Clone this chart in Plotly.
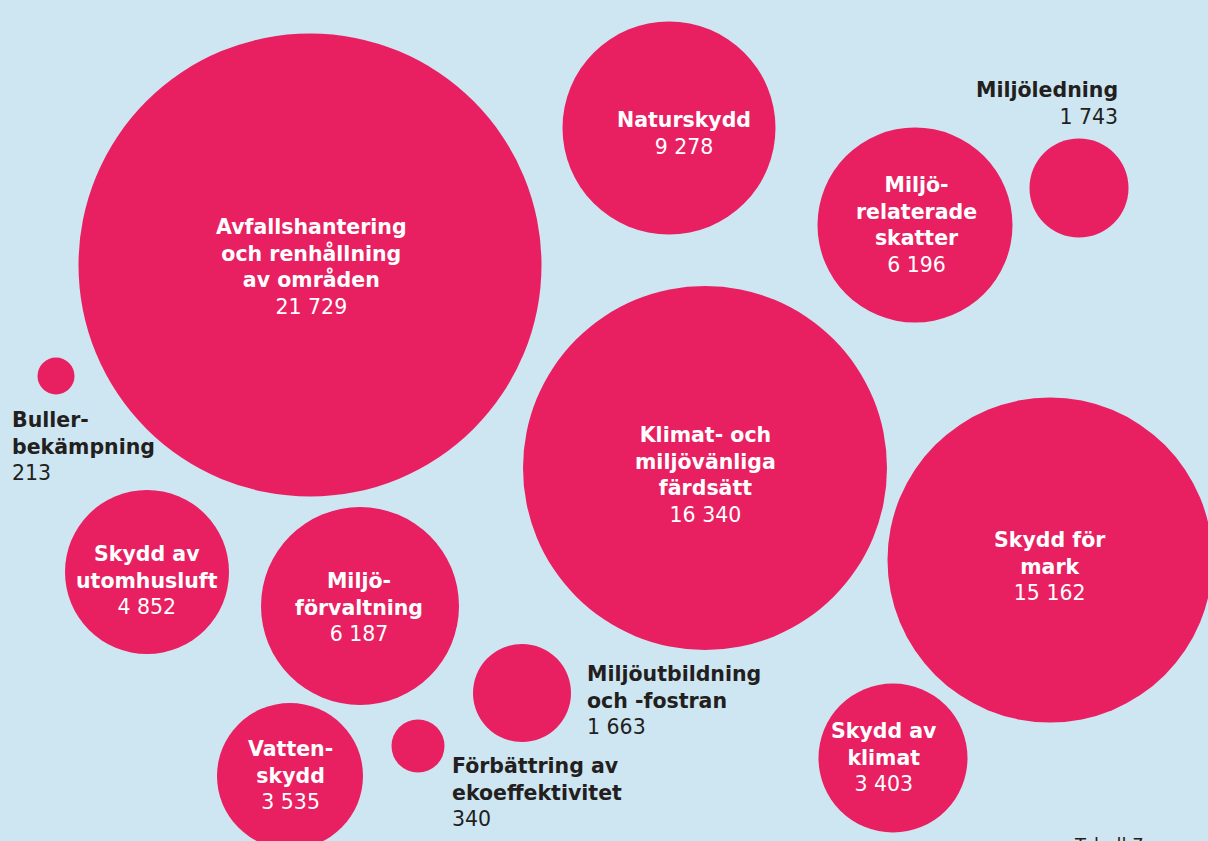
import plotly.graph_objects as go

# ---- data ----
categories = [
    "Avfallshantering<br>och renhållning<br>av områden",
    "Naturskydd",
    "Miljö-<br>relaterade<br>skatter",
    "Miljöledning",
    "Buller-<br>bekämpning",
    "Klimat- och<br>miljövänliga<br>färdsätt",
    "Skydd för<br>mark",
    "Skydd av<br>utomhusluft",
    "Miljö-<br>förvaltning",
    "Miljöutbildning<br>och -fostran",
    "Förbättring av<br>ekoeffektivitet",
    "Vatten-<br>skydd",
    "Skydd av<br>klimat",
]
values = [21729, 9278, 6196, 1743, 213, 16340, 15162, 4852, 6187, 1663, 340, 3535, 3403]

# ---- layout of the packed bubbles (pixel space) ----
bubble_x = [310, 669, 915, 1079, 56, 705, 1050, 147, 360, 522, 418, 290, 893]
bubble_y = [265, 128, 225, 188, 376, 468, 560, 572, 606, 693, 746, 776, 758]
bubble_d = [463, 213, 195, 99, 37, 364, 325, 164, 198, 98, 53, 146, 149]

# label placement: (x, y, align, inside)
label_pos = [
    (311, 267, "center", True),
    (684, 133, "center", True),
    (916, 225, "center", True),
    (1120, 103, "right", False),
    (10, 446, "left", False),
    (705, 475, "center", True),
    (1050, 566, "center", True),
    (147, 580, "center", True),
    (359, 607, "center", True),
    (585, 700, "left", False),
    (450, 792, "left", False),
    (290, 775, "center", True),
    (884, 757, "center", True),
]

BG = "#cde6f2"
PINK = "#e81f61"
DARK = "#231f20"
FONT = "DejaVu Sans"


def fmt(v):
    return f"{v:,}".replace(",", " ")


fig = go.Figure()
fig.add_trace(go.Scatter(
    x=bubble_x, y=bubble_y, mode="markers",
    marker=dict(size=bubble_d, sizemode="diameter", color=PINK, line=dict(width=0), opacity=1),
    hovertext=[c.replace("<br>", " ") + ": " + fmt(v) for c, v in zip(categories, values)],
    hoverinfo="text",
    cliponaxis=False,
))

for cat, val, (lx, ly, al, inside) in zip(categories, values, label_pos):
    col = "white" if inside else DARK
    fig.add_annotation(
        x=lx, y=ly, xref="x", yref="y",
        text=f"<b>{cat}</b><br>{fmt(val)}",
        showarrow=False, align=al, xanchor=al, yanchor="middle",
        font=dict(family=FONT, size=20.5, color=col),
    )

fig.add_annotation(
    x=1072, y=0, xref="x", yref="paper", text="Tabell 7",
    showarrow=False, xanchor="left", yanchor="top", yshift=9,
    font=dict(family=FONT, size=18, color=DARK),
)

fig.update_layout(
    width=1208, height=841,
    margin=dict(l=0, r=0, t=0, b=0),
    paper_bgcolor=BG, plot_bgcolor=BG,
    showlegend=False,
    xaxis=dict(range=[0, 1208], visible=False, fixedrange=True),
    yaxis=dict(range=[841, 0], visible=False, fixedrange=True),
)

fig.write_html("out.html", config={"displayModeBar": False},
               post_script="document.body.style.margin='0';")
